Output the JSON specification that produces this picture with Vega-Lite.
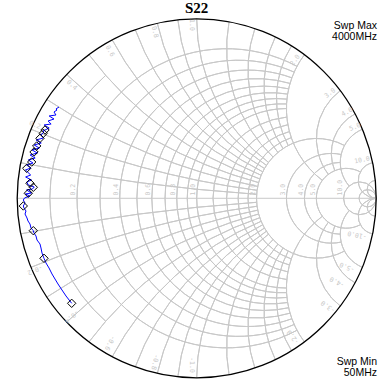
{
  "$schema": "https://vega.github.io/schema/vega-lite/v6.json",
  "width": 387,
  "height": 379,
  "padding": 0,
  "autosize": {"type": "none"},
  "background": "white",
  "config": {"view": {"stroke": null}},
  "datasets": {
    "grid": [
      {"cx":0.09091,"cy":0,"r":0.90909,"a":-138.9,"b":-41.1},
      {"cx":0.16667,"cy":0,"r":0.83333,"a":-208.07,"b":28.07},
      {"cx":0.23077,"cy":0,"r":0.76923,"a":-203.96,"b":23.96},
      {"cx":0.28571,"cy":0,"r":0.71429,"a":-200.02,"b":20.02},
      {"cx":0.33333,"cy":0,"r":0.66667,"a":-196.26,"b":16.26},
      {"cx":0.375,"cy":0,"r":0.625,"a":-192.68,"b":12.68},
      {"cx":0.41176,"cy":0,"r":0.58824,"a":-189.27,"b":9.27},
      {"cx":0.44444,"cy":0,"r":0.55556,"a":-186.03,"b":6.03},
      {"cx":0.47368,"cy":0,"r":0.52632,"a":-182.94,"b":2.94},
      {"cx":0.5,"cy":0,"r":0.5,"a":-180,"b":0},
      {"cx":0.54545,"cy":0,"r":0.45455,"a":-174.55,"b":-5.45},
      {"cx":0.58333,"cy":0,"r":0.41667,"a":-169.61,"b":-10.39},
      {"cx":0.61538,"cy":0,"r":0.38462,"a":-165.14,"b":-14.86},
      {"cx":0.64286,"cy":0,"r":0.35714,"a":-161.08,"b":-18.92},
      {"cx":0.66667,"cy":0,"r":0.33333,"a":-208.07,"b":28.07},
      {"cx":0.75,"cy":0,"r":0.25,"a":-192.68,"b":12.68},
      {"cx":0.8,"cy":0,"r":0.2,"a":-180,"b":0},
      {"cx":0.83333,"cy":0,"r":0.16667,"a":-208.07,"b":28.07},
      {"cx":0.90909,"cy":0,"r":0.09091,"a":-270,"b":90},
      {"cx":0.95238,"cy":0,"r":0.04762,"a":-270,"b":90},
      {"cx":1,"cy":10,"r":10,"a":183.82,"b":191.42},{"cx":1,"cy":-10,"r":10,"a":-11.42,"b":-3.82},
      {"cx":1,"cy":5,"r":5,"a":187.63,"b":202.62},{"cx":1,"cy":-5,"r":5,"a":-22.62,"b":-7.63},
      {"cx":1,"cy":3.33333,"r":3.33333,"a":191.42,"b":213.4},{"cx":1,"cy":-3.33333,"r":3.33333,"a":-33.4,"b":-11.42},
      {"cx":1,"cy":2.5,"r":2.5,"a":195.19,"b":223.6},{"cx":1,"cy":-2.5,"r":2.5,"a":-43.6,"b":-15.19},
      {"cx":1,"cy":2,"r":2,"a":198.92,"b":233.13},{"cx":1,"cy":-2,"r":2,"a":-53.13,"b":-18.92},
      {"cx":1,"cy":1.66667,"r":1.66667,"a":202.62,"b":241.93},{"cx":1,"cy":-1.66667,"r":1.66667,"a":-61.93,"b":-22.62},
      {"cx":1,"cy":1.42857,"r":1.42857,"a":206.27,"b":249.98},{"cx":1,"cy":-1.42857,"r":1.42857,"a":-69.98,"b":-26.27},
      {"cx":1,"cy":1.25,"r":1.25,"a":209.86,"b":257.32},{"cx":1,"cy":-1.25,"r":1.25,"a":-77.32,"b":-29.86},
      {"cx":1,"cy":1.11111,"r":1.11111,"a":213.4,"b":263.97},{"cx":1,"cy":-1.11111,"r":1.11111,"a":-83.97,"b":-33.4},
      {"cx":1,"cy":1,"r":1,"a":216.87,"b":270},{"cx":1,"cy":-1,"r":1,"a":-90,"b":-36.87},
      {"cx":1,"cy":0.83333,"r":0.83333,"a":223.6,"b":280.39},{"cx":1,"cy":-0.83333,"r":0.83333,"a":-100.39,"b":-43.6},
      {"cx":1,"cy":0.71429,"r":0.71429,"a":230.03,"b":288.92},{"cx":1,"cy":-0.71429,"r":0.71429,"a":-108.92,"b":-50.03},
      {"cx":1,"cy":0.625,"r":0.625,"a":236.18,"b":295.99},{"cx":1,"cy":-0.625,"r":0.625,"a":-115.99,"b":-56.18},
      {"cx":1,"cy":0.55556,"r":0.55556,"a":241.93,"b":301.89},{"cx":1,"cy":-0.55556,"r":0.55556,"a":-121.89,"b":-61.93},
      {"cx":1,"cy":0.5,"r":0.5,"a":216.87,"b":306.87},{"cx":1,"cy":-0.5,"r":0.5,"a":-126.87,"b":-36.87},
      {"cx":1,"cy":0.33333,"r":0.33333,"a":233.13,"b":323.13},{"cx":1,"cy":-0.33333,"r":0.33333,"a":-143.13,"b":-53.13},
      {"cx":1,"cy":0.25,"r":0.25,"a":247.38,"b":331.93},{"cx":1,"cy":-0.25,"r":0.25,"a":-151.93,"b":-67.38},
      {"cx":1,"cy":0.2,"r":0.2,"a":228.88,"b":337.38},{"cx":1,"cy":-0.2,"r":0.2,"a":-157.38,"b":-48.88},
      {"cx":1,"cy":0.1,"r":0.1,"a":180,"b":348.58},{"cx":1,"cy":-0.1,"r":0.1,"a":-168.58,"b":0},
      {"cx":1,"cy":0.05,"r":0.05,"a":180,"b":354.28},{"cx":1,"cy":-0.05,"r":0.05,"a":-174.28,"b":0}
    ],
    "rim": [{"cx":0,"cy":0,"r":1,"a":0,"b":360}],
    "axis": [{"x1":-1,"x2":1,"y":0}],
    "trace": [
      {"i":0,"gx":-0.6964,"gy":-0.5850},{"i":1,"gx":-0.7281,"gy":-0.5443},{"i":2,"gx":-0.7504,"gy":-0.5109},
      {"i":3,"gx":-0.7727,"gy":-0.4774},{"i":4,"gx":-0.7894,"gy":-0.4496},{"i":5,"gx":-0.8061,"gy":-0.4217},
      {"i":6,"gx":-0.8228,"gy":-0.3883},{"i":7,"gx":-0.8396,"gy":-0.3604},{"i":8,"gx":-0.8507,"gy":-0.3343},
      {"i":9,"gx":-0.8618,"gy":-0.3047},{"i":10,"gx":-0.8674,"gy":-0.2769},{"i":11,"gx":-0.8730,"gy":-0.2546},
      {"i":12,"gx":-0.8897,"gy":-0.2323},{"i":13,"gx":-0.8953,"gy":-0.2100},{"i":14,"gx":-0.9064,"gy":-0.1933},
      {"i":15,"gx":-0.9103,"gy":-0.1805},{"i":16,"gx":-0.9231,"gy":-0.1655},{"i":17,"gx":-0.9287,"gy":-0.1432},
      {"i":18,"gx":-0.9398,"gy":-0.1265},{"i":19,"gx":-0.9454,"gy":-0.1097},{"i":20,"gx":-0.9565,"gy":-0.0875},
      {"i":21,"gx":-0.9510,"gy":-0.0708},{"i":22,"gx":-0.9621,"gy":-0.0540},{"i":23,"gx":-0.9660,"gy":-0.0429},
      {"i":24,"gx":-0.9565,"gy":-0.0262},{"i":25,"gx":-0.9660,"gy":-0.0095},{"i":26,"gx":-0.9590,"gy":0.0017},
      {"i":27,"gx":-0.9300,"gy":0.0128},{"i":28,"gx":-0.9540,"gy":0.0240},{"i":29,"gx":-0.9200,"gy":0.0295},
      {"i":30,"gx":-0.9480,"gy":0.0462},{"i":31,"gx":-0.9150,"gy":0.0518},{"i":32,"gx":-0.9050,"gy":0.0630},
      {"i":33,"gx":-0.9380,"gy":0.0741},{"i":34,"gx":-0.9470,"gy":0.0908},{"i":35,"gx":-0.9200,"gy":0.1019},
      {"i":36,"gx":-0.9530,"gy":0.1187},{"i":37,"gx":-0.9250,"gy":0.1298},{"i":38,"gx":-0.9540,"gy":0.1577},
      {"i":39,"gx":-0.9230,"gy":0.1688},{"i":40,"gx":-0.9480,"gy":0.1855},{"i":41,"gx":-0.9120,"gy":0.1967},
      {"i":42,"gx":-0.9380,"gy":0.2134},{"i":43,"gx":-0.9000,"gy":0.2245},{"i":44,"gx":-0.9280,"gy":0.2412},
      {"i":45,"gx":-0.8880,"gy":0.2524},{"i":46,"gx":-0.9170,"gy":0.2691},{"i":47,"gx":-0.8770,"gy":0.2802},
      {"i":48,"gx":-0.9050,"gy":0.2969},{"i":49,"gx":-0.8660,"gy":0.3081},{"i":50,"gx":-0.8950,"gy":0.3248},
      {"i":51,"gx":-0.8540,"gy":0.3359},{"i":52,"gx":-0.8680,"gy":0.3526},{"i":53,"gx":-0.8500,"gy":0.3694},
      {"i":54,"gx":-0.8560,"gy":0.3749},{"i":55,"gx":-0.8220,"gy":0.3916},{"i":56,"gx":-0.8500,"gy":0.4084},
      {"i":57,"gx":-0.8110,"gy":0.4139},{"i":58,"gx":-0.8280,"gy":0.4306},{"i":59,"gx":-0.7950,"gy":0.4418},
      {"i":60,"gx":-0.8220,"gy":0.4585},{"i":61,"gx":-0.7840,"gy":0.4641},{"i":62,"gx":-0.7950,"gy":0.4808},
      {"i":63,"gx":-0.7780,"gy":0.4919},{"i":64,"gx":-0.7840,"gy":0.4975},{"i":65,"gx":-0.7671,"gy":0.5086}
    ],
    "marks": [
      {"gx":-0.6964,"gy":-0.5850},{"gx":-0.8507,"gy":-0.3343},{"gx":-0.9103,"gy":-0.1805},
      {"gx":-0.9660,"gy":-0.0429},{"gx":-0.9103,"gy":0.0613},{"gx":-0.9382,"gy":0.0279},
      {"gx":-0.9287,"gy":0.0836},{"gx":-0.9471,"gy":0.1671},{"gx":-0.9192,"gy":0.2022},
      {"gx":-0.9064,"gy":0.2579},{"gx":-0.8914,"gy":0.2914},{"gx":-0.8730,"gy":0.3343},
      {"gx":-0.8546,"gy":0.3621},{"gx":-0.8451,"gy":0.3805}
    ],
    "axlabels": [
      {"tx":-0.670,"ty":0.0156,"t":"0.2"},{"tx":-0.432,"ty":0.0156,"t":"0.4"},
      {"tx":-0.253,"ty":0.0156,"t":"0.6"},{"tx":-0.114,"ty":0.0156,"t":"0.8"},
      {"tx":-0.003,"ty":0.0156,"t":"1.0"},{"tx":0.330,"ty":0.0156,"t":"2.0"},
      {"tx":0.497,"ty":0.0156,"t":"3.0"},{"tx":0.597,"ty":0.0156,"t":"4.0"},
      {"tx":0.664,"ty":0.0156,"t":"5.0"},{"tx":0.815,"ty":0.0156,"t":"10.0"}
    ],
    "rimlabels": [
      {"tx":-0.9008,"ty":0.4084,"t":"0.2","rot":22.6},
      {"tx":-0.6947,"ty":0.6312,"t":"0.4","rot":43.6},
      {"tx":-0.4830,"ty":0.8206,"t":"0.6","rot":61.9},
      {"tx":-0.2323,"ty":0.9265,"t":"0.8","rot":77.3},
      {"tx":-0.0279,"ty":0.9655,"t":"1.0","rot":90},
      {"tx":0.5476,"ty":0.7705,"t":"2.0","rot":-53.1},
      {"tx":0.7426,"ty":0.5866,"t":"3.0","rot":-36.9},
      {"tx":0.8373,"ty":0.4808,"t":"4.0","rot":-28.1},
      {"tx":0.8819,"ty":0.3972,"t":"5.0","rot":-22.6},
      {"tx":0.9209,"ty":0.2134,"t":"10.0","rot":-11.4},
      {"tx":-0.9008,"ty":-0.3994,"t":"-0.2","rot":157.4},
      {"tx":-0.6964,"ty":-0.6596,"t":"-0.4","rot":136.4},
      {"tx":-0.4830,"ty":-0.8061,"t":"-0.6","rot":118.1},
      {"tx":-0.2323,"ty":-0.9120,"t":"-0.8","rot":102.7},
      {"tx":-0.0279,"ty":-0.9287,"t":"-1.0","rot":90},
      {"tx":0.5365,"ty":-0.7727,"t":"-2.0","rot":233.1},
      {"tx":0.7315,"ty":-0.6033,"t":"-3.0","rot":216.9},
      {"tx":0.7816,"ty":-0.4663,"t":"-4.0","rot":208.1},
      {"tx":0.8373,"ty":-0.3827,"t":"-5.0","rot":202.6},
      {"tx":0.8930,"ty":-0.2045,"t":"-10.0","rot":191.4}
    ],
    "notes": [
      {"tx":0,"ty":1.0295,"t":"S22","k":"title"},
      {"tx":1.0045,"ty":0.9454,"t":"Swp Max","k":"n"},
      {"tx":1.0045,"ty":0.8830,"t":"4000MHz","k":"n"},
      {"tx":1.0045,"ty":-0.9287,"t":"Swp Min","k":"n"},
      {"tx":1.0045,"ty":-0.9900,"t":"50MHz","k":"n"}
    ]
  },
  "layer": [
    {
      "data": {"name": "grid"},
      "mark": {"type": "arc", "filled": false, "stroke": "#c8c8c8", "strokeWidth": 1},
      "encoding": {
        "x": {"field": "cx", "type": "quantitative", "scale": {"domain": [-1.0958, 1.0602], "nice": false, "zero": false}, "axis": null},
        "y": {"field": "cy", "type": "quantitative", "scale": {"domain": [-1.0067, 1.1047], "nice": false, "zero": false}, "axis": null},
        "radius": {"field": "r", "type": "quantitative", "scale": {"type": "linear", "domain": [0, 1], "range": [0, 179.5], "zero": true}},
        "radius2": {"field": "r"},
        "theta": {"field": "a", "type": "quantitative", "stack": null, "scale": {"type": "linear", "domain": [0, 360], "range": [0, 6.283185307179586]}},
        "theta2": {"field": "b"}
      }
    },
    {
      "data": {"name": "axis"},
      "mark": {"type": "rule", "stroke": "#c8c8c8", "strokeWidth": 1},
      "encoding": {
        "x": {"field": "x1", "type": "quantitative"},
        "x2": {"field": "x2"},
        "y": {"field": "y", "type": "quantitative"}
      }
    },
    {
      "data": {"name": "rim"},
      "mark": {"type": "arc", "filled": false, "stroke": "#000000", "strokeWidth": 1.3},
      "encoding": {
        "x": {"field": "cx", "type": "quantitative"},
        "y": {"field": "cy", "type": "quantitative"},
        "radius": {"field": "r", "type": "quantitative"},
        "radius2": {"field": "r"},
        "theta": {"field": "a", "type": "quantitative", "stack": null},
        "theta2": {"field": "b"}
      }
    },
    {
      "data": {"name": "axlabels"},
      "mark": {"type": "text", "angle": 270, "align": "left", "baseline": "bottom", "font": "DejaVu Sans Mono", "fontSize": 6.5, "color": "#c8c8c8"},
      "encoding": {
        "x": {"field": "tx", "type": "quantitative"},
        "y": {"field": "ty", "type": "quantitative"},
        "text": {"field": "t"}
      }
    },
    {
      "data": {"name": "rimlabels"},
      "mark": {"type": "text", "align": "center", "baseline": "middle", "font": "DejaVu Sans Mono", "fontSize": 6.5, "color": "#c8c8c8"},
      "encoding": {
        "x": {"field": "tx", "type": "quantitative"},
        "y": {"field": "ty", "type": "quantitative"},
        "angle": {"field": "rot", "type": "quantitative", "scale": null},
        "text": {"field": "t"}
      }
    },
    {
      "data": {"name": "trace"},
      "mark": {"type": "line", "color": "#0000ff", "strokeWidth": 1},
      "encoding": {
        "x": {"field": "gx", "type": "quantitative"},
        "y": {"field": "gy", "type": "quantitative"},
        "order": {"field": "i"}
      }
    },
    {
      "data": {"name": "marks"},
      "mark": {"type": "point", "shape": "diamond", "filled": false, "stroke": "#000000", "strokeWidth": 1, "size": 70, "opacity": 1},
      "encoding": {
        "x": {"field": "gx", "type": "quantitative"},
        "y": {"field": "gy", "type": "quantitative"}
      }
    },
    {
      "data": {"name": "notes"},
      "transform": [{"filter": "datum.k == 'n'"}],
      "mark": {"type": "text", "align": "right", "baseline": "alphabetic", "font": "Liberation Sans", "fontSize": 10.5, "color": "#000000"},
      "encoding": {
        "x": {"field": "tx", "type": "quantitative"},
        "y": {"field": "ty", "type": "quantitative"},
        "text": {"field": "t"}
      }
    },
    {
      "data": {"name": "notes"},
      "transform": [{"filter": "datum.k == 'title'"}],
      "mark": {"type": "text", "align": "center", "baseline": "alphabetic", "font": "Liberation Serif", "fontWeight": "bold", "fontSize": 15, "color": "#000000"},
      "encoding": {
        "x": {"field": "tx", "type": "quantitative"},
        "y": {"field": "ty", "type": "quantitative"},
        "text": {"field": "t"}
      }
    }
  ]
}
